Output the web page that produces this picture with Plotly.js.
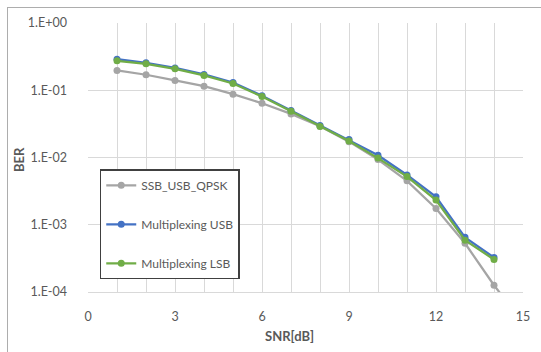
<!DOCTYPE html>
<html><head><meta charset="utf-8">
<script src="https://cdn.plot.ly/plotly-3.0.1.min.js"></script>
<style>
html,body{margin:0;padding:0;background:#fff;}
#wrap{position:relative;width:541px;height:352px;overflow:hidden;}
#chart{width:541px;height:352px;}
#frame{position:absolute;left:7px;top:7px;width:600px;height:400px;border-left:1px solid #ADADAD;border-top:1px solid #ADADAD;pointer-events:none;}
</style></head>
<body><div id="wrap"><div id="chart"></div><div id="frame"></div></div>
<script>
const snr = [1,2,3,4,5,6,7,8,9,10,11,12,13,14,15];
const snrUSB = [1,2,3,4,5,6,7,8,9,10,11,12,13,14];
const berSSB = [0.197,0.170,0.140,0.115,0.0875,0.064,0.0445,0.0292,0.0172,0.0093,0.0045,0.00175,0.00053,0.000126,0.000035];
const berMuxUSB = [0.29,0.256,0.215,0.172,0.130,0.083,0.050,0.030,0.0185,0.0108,0.0055,0.0026,0.00065,0.000326];
const berMuxLSB = [0.274,0.247,0.208,0.166,0.126,0.0805,0.0488,0.029,0.0176,0.0098,0.0052,0.00233,0.00059,0.000304];
const names = ["SSB_USB_QPSK","Multiplexing USB","Multiplexing LSB"];
const colors = ["#A5A5A5","#4472C4","#70AD47"];
const yTickVals = [1e-4,1e-3,1e-2,1e-1,1];
const yTickText = ["1.E-04","1.E-03","1.E-02","1.E-01","1.E+00"];
const xTickVals = [0,3,6,9,12,15];

const font = "Lato, 'Open Sans', sans-serif";
function tr(x,y,i){
  return {x:x,y:y,name:names[i],type:"scatter",mode:"lines+markers",
    line:{color:colors[i],width:2.25},marker:{color:colors[i],size:7,symbol:"circle"},
    legendgroup:"g"+i};
}
const data=[tr(snr,berSSB,0),tr(snrUSB,berMuxUSB,1),tr(snrUSB,berMuxLSB,2)];
const grid="#D9D9D9";
const layout={
  width:541,height:352,
  margin:{l:88,r:18,t:23,b:60,pad:0},
  paper_bgcolor:"#fff",plot_bgcolor:"#fff",
  font:{family:font,size:12,color:"#595959"},
  showlegend:true,
  legend:{x:0.027,y:0.456,xanchor:"left",yanchor:"top",bgcolor:"#fff",
    bordercolor:"#404040",borderwidth:1.5,tracegroupgap:20,
    font:{family:font,size:12,color:"#595959"},itemwidth:30},
  xaxis:{range:[0,15],tickvals:xTickVals,ticktext:xTickVals.map(String),
    showgrid:true,gridcolor:grid,gridwidth:1,zeroline:false,
    minor:{dtick:1,tick0:0,showgrid:true,gridcolor:grid,gridwidth:1},
    showline:true,linecolor:"#D9D9D9",linewidth:1,ticks:"",ticklabelstandoff:13,
    tickfont:{family:font,size:12.5,color:"#595959"},
    title:{text:""}},
  yaxis:{type:"log",range:[-4,0],tickvals:yTickVals,ticktext:yTickText,
    showgrid:true,gridcolor:grid,gridwidth:1,zeroline:false,showline:false,
    ticks:"",ticklabelstandoff:20,
    tickfont:{family:font,size:12.5,color:"#595959"},
    title:{text:""}},
  annotations:[
    {text:"<b>SNR[dB]</b>",xref:"paper",yref:"paper",x:(289-88)/435,y:-(336-291.7)/268.4,
    xanchor:"center",yanchor:"middle",showarrow:false,font:{family:font,size:13,color:"#595959"}},
    {text:"<b>BER</b>",xref:"paper",yref:"paper",x:-(88-19)/435,y:(291.7-160)/268.4,textangle:-90,
    xanchor:"center",yanchor:"middle",showarrow:false,font:{family:font,size:13,color:"#595959"}}
  ]
};
Plotly.newPlot("chart",data,layout,{displayModeBar:false,staticPlot:true});
</script></body></html>
